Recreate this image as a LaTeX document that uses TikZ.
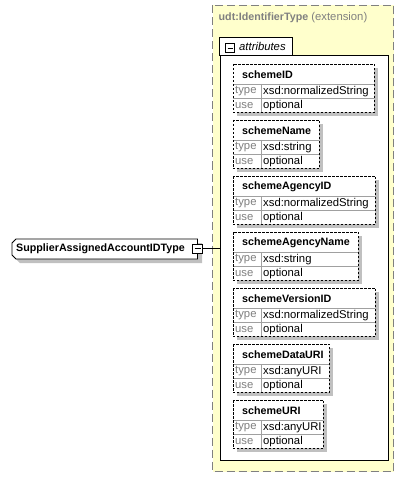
\documentclass[tikz,border=0pt]{standalone}
\usepackage{fontspec}
\setmainfont{Liberation Sans}
\definecolor{yel}{HTML}{FFFFCC}
\definecolor{greyline}{HTML}{808080}
\definecolor{shadowc}{HTML}{C0C0C0}
\definecolor{gridc}{HTML}{A0A0A0}
\tikzset{
  regtext/.style={inner sep=0pt, anchor=west, font=\fontsize{11.3}{13}\selectfont},
  boldtext/.style={inner sep=0pt, anchor=west, font=\fontsize{10.7}{13}\selectfont\bfseries},
  labtext/.style={regtext, text=greyline},
  attrdash/.style={draw=black, dash pattern=on 2.5pt off 1.5pt, line width=0.9pt},
}
\newcommand\attrbox[5]{%
  \fill[shadowc] (237,#4+4) rectangle (#5+4,#4+52);
  \node[fill=white, inner sep=0pt, anchor=north west, minimum width=#5-233, minimum height=48] (#1) at (233,#4) {};
  \draw[gridc, line width=0.8pt] (233,#4+20) -- (#5,#4+20);
  \draw[gridc, line width=0.8pt] (233,#4+34) -- (#5,#4+34);
  \draw[gridc, line width=0.8pt] (261,#4+20) -- (261,#4+48);
  \node[boldtext] (#1n) at (242,#4+10.5) {#2};
  \node[labtext] (#1t) at (235,#4+27.5) {type};
  \node[regtext] (#1v) at (263,#4+27.5) {#3};
  \node[labtext] (#1u) at (235,#4+41.5) {use};
  \node[regtext] (#1o) at (263,#4+41.5) {optional};
  \draw[attrdash] (#1.north west) rectangle (#1.south east);
}
\begin{document}
\begin{tikzpicture}[x=1pt,y=-1pt]
\useasboundingbox (0,0) rectangle (411,489);
% extension container
\draw[fill=yel, draw=greyline, line width=0.9pt, dash pattern=on 8pt off 4pt] (212.5,5.5) rectangle (393.5,471.5);
\node[inner sep=0pt, anchor=west, text=greyline] (ext) at (218.5,18) {\fontsize{10.7}{13}\selectfont\bfseries udt:IdentifierType\fontsize{11.3}{13}\selectfont\mdseries\ (extension)};
% attributes box
\node[draw=black, fill=white, line width=0.9pt, inner sep=0pt, anchor=north west, minimum width=168, minimum height=404] (attrs) at (219.5,55.5) {};
\fill[white] (219.5,37.5) rectangle (292.5,55.5);
\draw[black, line width=0.9pt] (219.5,56) -- (219.5,37.5) -- (292.5,37.5) -- (292.5,56);
\node[draw=black, fill=white, line width=0.7pt, minimum size=8.5, inner sep=0pt] (attrminus) at (230,48) {};
\draw[line width=0.7pt] (227.5,48) -- (232.5,48);
\node[regtext, font=\fontsize{11.3}{13}\selectfont\itshape] (attrlabel) at (239,46.5) {attributes};
% attribute boxes
\attrbox{a1}{schemeID}{xsd:normalizedString}{64}{374}
\attrbox{a2}{schemeName}{xsd:string}{120}{319}
\attrbox{a3}{schemeAgencyID}{xsd:normalizedString}{176}{375}
\attrbox{a4}{schemeAgencyName}{xsd:string}{232}{358}
\attrbox{a5}{schemeVersionID}{xsd:normalizedString}{288}{375}
\attrbox{a6}{schemeDataURI}{xsd:anyURI}{344}{329}
\attrbox{a7}{schemeURI}{xsd:anyURI}{400}{323}
% main element
\fill[shadowc] (20,243) -- (202,243) -- (202,263) -- (20,263) -- (16,259) -- (16,247) -- cycle;
\draw[fill=white, line width=0.9pt] (16,239) -- (197.5,239) -- (197.5,259) -- (16,259) -- (12,255) -- (12,243) -- cycle;
\node[boldtext] (main) at (16,249) {SupplierAssignedAccountIDType};
\node[draw=black, fill=white, line width=0.7pt, minimum width=10, minimum height=9, inner sep=0pt] (mainminus) at (197.5,248.5) {};
\draw[line width=0.7pt] (194.5,248.5) -- (200.5,248.5);
\draw[line width=0.9pt] (mainminus.east) -- (mainminus.east -| attrs.west);
\end{tikzpicture}
\end{document}
